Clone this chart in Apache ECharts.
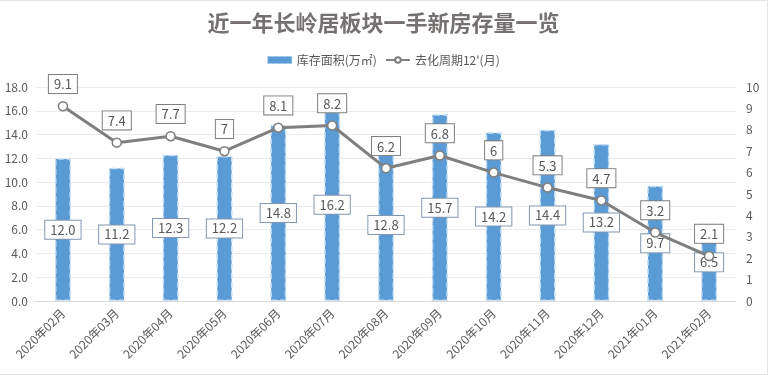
<!DOCTYPE html>
<html><head><meta charset="utf-8">
<script src="https://cdn.jsdelivr.net/npm/echarts@6/dist/echarts.min.js"></script>
<style>html,body{margin:0;padding:0;background:#fff}#c{width:768px;height:375px;box-sizing:border-box;border:1px solid #e4e4e4;border-left:none}</style>
</head><body><div id="c"></div>
<script>
const categories = ['2020年02月','2020年03月','2020年04月','2020年05月','2020年06月','2020年07月','2020年08月','2020年09月','2020年10月','2020年11月','2020年12月','2021年01月','2021年02月'];
const stockArea = [12.0,11.2,12.3,12.2,14.8,16.2,12.8,15.7,14.2,14.4,13.2,9.7,6.5];
const cycle = [9.1,7.4,7.7,7,8.1,8.2,6.2,6.8,6,5.3,4.7,3.2,2.1];
const barName = '库存面积(万㎡)';
const lineName = '去化周期12\'(月)';
const titleText = '近一年长岭居板块一手新房存量一览';

const chart = echarts.init(document.getElementById('c'));
const font = '"Microsoft YaHei","Noto Sans CJK SC",sans-serif';
chart.setOption({
  animation:false,
  textStyle:{fontFamily:font},
  title:{text:titleText,left:'center',top:6,textStyle:{fontSize:22,fontWeight:'bold',color:'#767171',fontFamily:font}},
  legend:{top:48,left:'center',itemGap:8,textStyle:{color:'#595959',fontSize:12},
    data:[{name:barName,icon:'rect',itemStyle:{color:'#5B9BD5',borderColor:'#9dc3e6',borderWidth:1,borderType:'dashed'}},{name:lineName}],
    itemWidth:24,itemHeight:7},
  grid:{left:36,right:31,top:86,bottom:73},
  xAxis:{type:'category',data:categories,
    axisLine:{lineStyle:{color:'#d9d9d9'}},axisTick:{show:false},
    axisLabel:{rotate:45,color:'#595959',fontSize:12,interval:0,margin:10}},
  yAxis:[
    {type:'value',min:0,max:18,interval:2,
     axisLabel:{formatter:v=>v.toFixed(1),color:'#595959',fontSize:12,margin:8},
     axisLine:{show:false},axisTick:{show:false},splitLine:{lineStyle:{color:'#ebebeb'}}},
    {type:'value',min:0,max:10,interval:1,
     axisLabel:{color:'#595959',fontSize:12,margin:10},
     axisLine:{show:false},axisTick:{show:false},splitLine:{show:false}}
  ],
  series:[
    {name:barName,type:'bar',data:stockArea,barWidth:16,
     itemStyle:{color:'#5B9BD5',borderColor:'#c5def3',borderWidth:1.5,borderType:'dashed'},
     label:{show:true,position:'inside',formatter:p=>p.value.toFixed(1),color:'#595959',fontSize:13,
       backgroundColor:'#fff',borderColor:'#8497b0',borderWidth:1,padding:[3,5,2,5]}},
    {name:lineName,type:'line',yAxisIndex:1,data:cycle,
     lineStyle:{color:'#7f7f7f',width:3},
     itemStyle:{color:'#fff',borderColor:'#7f7f7f',borderWidth:1.5},
     symbol:'circle',symbolSize:9,z:5,
     label:{show:true,position:'top',distance:8,color:'#595959',fontSize:13,
       backgroundColor:'#fff',borderColor:'#7f7f7f',borderWidth:1,padding:[3,5,2,5]}}
  ]
});
</script></body></html>
